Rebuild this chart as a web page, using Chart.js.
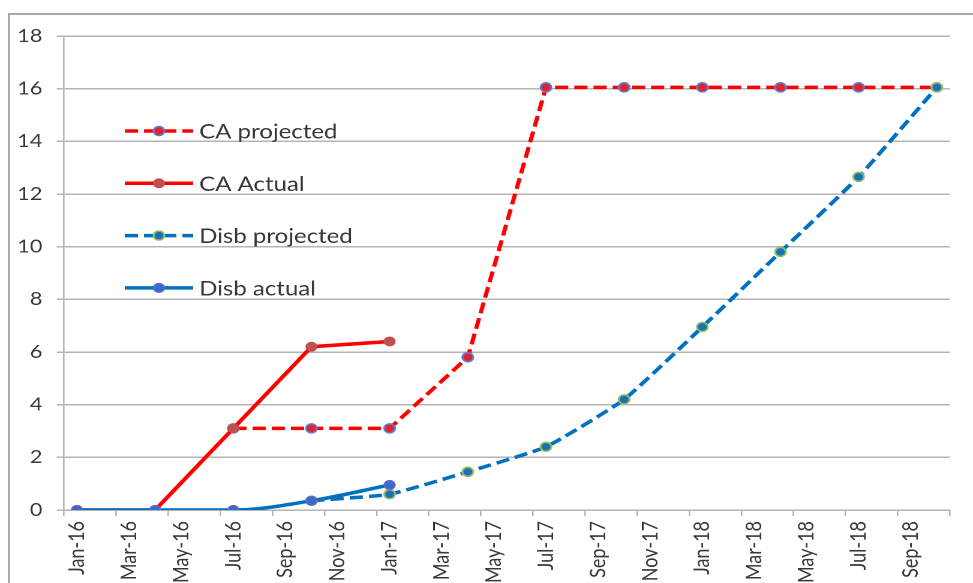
<!DOCTYPE html>
<html>
<head>
<meta charset="utf-8">
<script src="https://cdn.jsdelivr.net/npm/chart.js@4.4.1/dist/chart.umd.min.js"></script>
<style>
  html, body { margin: 0; padding: 0; background: #fff; overflow: hidden; width: 973px; height: 583px; }
  #frame { position: absolute; left: 8px; top: 13px; width: 1200px; height: 900px; border: 2px solid #a9a9a9; box-sizing: border-box; }
  #wrap { position: absolute; left: 0; top: 0; width: 811px; height: 620px; transform: scaleX(1.19975); transform-origin: 0 0; }
</style>
</head>
<body>
<div id="frame"></div>
<div id="wrap"><canvas id="chart"></canvas></div>
<script>
// Monthly category axis (labels shown every second month)
const months = [
  'Jan-16','Feb-16','Mar-16','Apr-16','May-16','Jun-16','Jul-16','Aug-16','Sep-16','Oct-16','Nov-16','Dec-16',
  'Jan-17','Feb-17','Mar-17','Apr-17','May-17','Jun-17','Jul-17','Aug-17','Sep-17','Oct-17','Nov-17','Dec-17',
  'Jan-18','Feb-18','Mar-18','Apr-18','May-18','Jun-18','Jul-18','Aug-18','Sep-18','Oct-18'
];

// CA
const caActualDates = ['Jan-16','Apr-16','Jul-16','Oct-16','Jan-17'];
const caActual      = [0, 0, 3.1, 6.2, 6.4];
const caProjectedDates = ['Jul-16','Oct-16','Jan-17','Apr-17','Jul-17','Oct-17','Jan-18','Apr-18','Jul-18','Oct-18'];
const caProjected      = [3.1, 3.1, 3.1, 5.8, 16.05, 16.05, 16.05, 16.05, 16.05, 16.05];

// Disbursement
const disbActualDates = ['Jan-16','Apr-16','Jul-16','Oct-16','Jan-17'];
const disbActual      = [0, 0, 0, 0.35, 0.95];
const disbProjectedDates = ['Oct-16','Jan-17','Apr-17','Jul-17','Oct-17','Jan-18','Apr-18','Jul-18','Oct-18'];
const disbProjected      = [0.35, 0.6, 1.45, 2.4, 4.2, 6.95, 9.8, 12.65, 16.05];

const legendOrder = ['CA projected', 'CA Actual', 'Disb projected', 'Disb actual'];

const toPoints = (dates, values) => dates.map((d, i) => ({ x: d, y: values[i] }));

const RED = '#ff0000';
const BLUE = '#0070c0';
const GRID = '#b4b4b4';
const TEXT = '#383838';
const FONT = 'Lato, Carlito, "Liberation Sans", sans-serif';

// Legend drawn inside the plot area, left side
const insideLegend = {
  id: 'insideLegend',
  afterDatasetsDraw(chart, args, opts) {
    const ctx = chart.ctx;
    opts.order.forEach((label, i) => {
      const ds = chart.data.datasets.find(d => d.label === label);
      const y = opts.top + i * opts.spacing;
      const x0 = opts.x, x1 = opts.x + opts.lineLength;
      ctx.save();
      ctx.strokeStyle = ds.borderColor;
      ctx.lineWidth = ds.borderWidth;
      ctx.setLineDash(ds.borderDash || []);
      ctx.beginPath();
      ctx.moveTo(x0, y);
      ctx.lineTo(x1, y);
      ctx.stroke();
      ctx.setLineDash([]);
      ctx.beginPath();
      ctx.arc((x0 + x1) / 2, y, ds.pointRadius, 0, Math.PI * 2);
      ctx.fillStyle = ds.pointBackgroundColor;
      ctx.fill();
      ctx.lineWidth = ds.pointBorderWidth;
      ctx.strokeStyle = ds.pointBorderColor;
      ctx.stroke();
      ctx.fillStyle = opts.color;
      ctx.font = opts.font;
      ctx.textBaseline = 'middle';
      ctx.textAlign = 'left';
      ctx.fillText(label, x1 + opts.gap, y + 1);
      ctx.restore();
    });
  }
};

new Chart(document.getElementById('chart'), {
  type: 'line',
  data: {
    labels: months,
    datasets: [
      {
        label: 'Disb actual',
        data: toPoints(disbActualDates, disbActual),
        borderColor: BLUE, borderWidth: 3.5,
        cubicInterpolationMode: 'monotone',
        pointRadius: 4.5, pointBackgroundColor: '#2f6fd0',
        pointBorderColor: '#6f63c4', pointBorderWidth: 1.2
      },
      {
        label: 'Disb projected',
        data: toPoints(disbProjectedDates, disbProjected),
        borderColor: BLUE, borderWidth: 3.5, borderDash: [11, 5],
        tension: 0.15,
        pointRadius: 4.5, pointBackgroundColor: '#1f6fb8',
        pointBorderColor: '#8fc060', pointBorderWidth: 1.6
      },
      {
        label: 'CA Actual',
        data: toPoints(caActualDates, caActual),
        borderColor: RED, borderWidth: 3.5,
        tension: 0,
        pointRadius: 4.5, pointBackgroundColor: '#c0504d',
        pointBorderColor: '#c0504d', pointBorderWidth: 1
      },
      {
        label: 'CA projected',
        data: toPoints(caProjectedDates, caProjected),
        borderColor: RED, borderWidth: 3.5, borderDash: [11, 5],
        tension: 0,
        pointRadius: 4.5, pointBackgroundColor: '#e8202a',
        pointBorderColor: '#5b7fcf', pointBorderWidth: 1.6
      }
    ]
  },
  options: {
    responsive: true,
    maintainAspectRatio: false,
    devicePixelRatio: 2,
    animation: false,
    layout: { padding: { top: 36, right: 19.3, bottom: 0, left: 0 } },
    plugins: {
      legend: { display: false },
      tooltip: { enabled: false },
      insideLegend: {
        order: legendOrder,
        x: 104, lineLength: 57, gap: 5,
        top: 131, spacing: 52.3,
        font: '20px ' + FONT, color: TEXT
      }
    },
    scales: {
      x: {
        type: 'category',
        offset: true,
        afterFit: s => { s.height = 110; },
        grid: {
          offset: true,
          drawOnChartArea: false,
          drawTicks: true,
          tickLength: 6,
          lineWidth: 1.3,
          color: c => (c.index === undefined || c.index % 2 === 0) ? GRID : 'rgba(0,0,0,0)'
        },
        border: { display: true, color: GRID, width: 1.5 },
        ticks: {
          autoSkip: false,
          minRotation: 90,
          maxRotation: 90,
          padding: 5,
          color: TEXT,
          font: { family: FONT, size: 18 },
          callback: (v, i) => (i % 2 === 0 ? months[i] : '')
        }
      },
      y: {
        min: 0,
        max: 18,
        afterFit: s => { s.width = 53.3; },
        grid: { color: GRID, lineWidth: 1.5, drawTicks: true, tickLength: 6 },
        border: { display: true, color: GRID, width: 1.3 },
        ticks: {
          stepSize: 2,
          padding: 12,
          color: TEXT,
          font: { family: FONT, size: 18 }
        }
      }
    }
  },
  plugins: [insideLegend]
});
</script>
</body>
</html>
